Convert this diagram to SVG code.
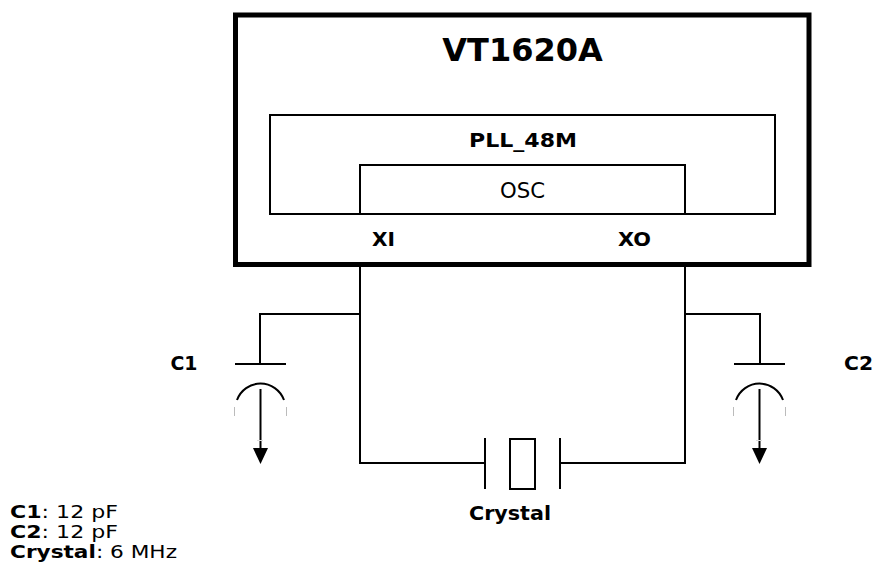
<svg xmlns="http://www.w3.org/2000/svg" width="874" height="574" viewBox="0 0 874 574">
<style>
.w{fill:none;stroke:#000;stroke-width:2}
.t{font-family:"DejaVu Sans",Verdana,sans-serif;fill:#000}
.b{font-weight:bold;font-size:19.500px;text-anchor:middle}
.n{font-size:17px}
.g{stroke:#bbb;stroke-width:1;fill:none}
.f{stroke:#ddd;stroke-width:1;fill:none}
</style>
<g id="vt1620a"><rect x="235.500" y="15" width="573.500" height="249.500" fill="#fff" stroke="#000" stroke-width="5"/>
<text class="t" x="522.500" y="61" text-anchor="middle" font-weight="bold" font-size="32">VT1620A</text></g>
<g id="pll"><rect class="w" x="270" y="115" width="505" height="99"/>
<text class="t b" x="523" y="147" textLength="108" lengthAdjust="spacingAndGlyphs">PLL_48M</text></g>
<g id="osc"><rect class="w" x="360" y="165" width="325" height="49"/>
<text class="t" font-size="20.500" x="522.500" y="197.500" text-anchor="middle" textLength="45" lengthAdjust="spacingAndGlyphs">OSC</text></g>
<g id="pins"><text class="t b" x="383.500" y="246" textLength="23" lengthAdjust="spacingAndGlyphs">XI</text>
<text class="t b" x="634.500" y="246" textLength="33" lengthAdjust="spacingAndGlyphs">XO</text></g>
<g id="connectors">
<path class="w" d="M360 266V463H485M685 266V463H560"/>
<path class="w" d="M360 314H260V364M685 314H760V364"/>
</g>
<g id="c1"><path class="w" d="M235 364H286M237 400A25 25 0 0 1 284 400"/>
<path class="w" d="M260.500 389V449"/><path d="M253 448H268L260.500 464Z"/>
<path class="g" d="M234.500 407V416M286.500 407V416"/>
<path class="f" d="M257 440.500H263"/>
<text class="t b" x="184" y="369.500" textLength="27" lengthAdjust="spacingAndGlyphs">C1</text></g>
<g id="c2"><path class="w" d="M734 364H785M736 400A25 25 0 0 1 783 400"/>
<path class="w" d="M759.500 389V449"/><path d="M752 448H767L759.500 464Z"/>
<path class="g" d="M733.500 407V416M785.500 407V416"/>
<path class="f" d="M756 440.500H762"/>
<text class="t b" x="858.500" y="369.500" textLength="29" lengthAdjust="spacingAndGlyphs">C2</text></g>
<g id="crystal"><path class="w" d="M485 438V489M560 438V489"/>
<rect class="w" x="510" y="439" width="25" height="50"/>
<text class="t b" x="510" y="520" textLength="82" lengthAdjust="spacingAndGlyphs">Crystal</text></g>
<g id="legend">
<text class="t n" x="10" y="518" textLength="108" lengthAdjust="spacingAndGlyphs"><tspan font-weight="bold">C1</tspan>: 12 pF</text>
<text class="t n" x="10" y="538" textLength="108" lengthAdjust="spacingAndGlyphs"><tspan font-weight="bold">C2</tspan>: 12 pF</text>
<text class="t n" x="10" y="558" textLength="167" lengthAdjust="spacingAndGlyphs"><tspan font-weight="bold">Crystal</tspan>: 6 MHz</text>
</g>
</svg>
